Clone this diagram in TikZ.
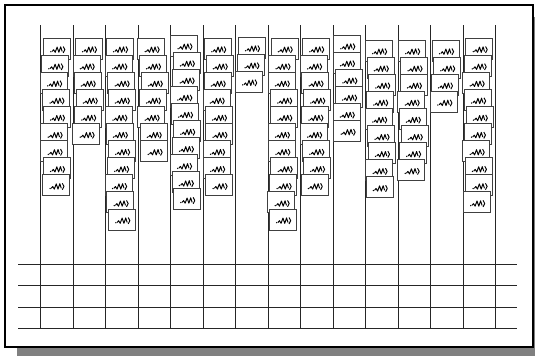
\documentclass[tikz,border=0pt]{standalone}
\usepackage{tikz}
\usetikzlibrary{calc}

\begin{document}
\begin{tikzpicture}[
    x=1pt, y=-1pt,
    rail/.style = {line width=1pt, black!85},
    cell/.style = {draw=black!75, fill=white, line width=1pt, inner sep=0pt,
                   minimum width=27pt, minimum height=21pt},
    wavy/.style = {line width=0.95pt, black, line join=round},
  ]

  % ---------- 参数：只改这里即可换图 ----------
  \def\xo{40.5}       % 第一根竖线的 x
  \def\gap{32.5}      % 竖线间距
  \def\pitch{17.1}    % 方块的竖向间距

  % ---------- 画布（带阴影的外框）----------
  \useasboundingbox (0,0) rectangle (535,356);
  \fill[black!50] (17,17) rectangle (535,356);
  \draw[fill=white, line width=1.2pt] (5,5) rectangle (533,347);

  % ---------- 竖线 ----------
  \foreach \kk in {0,...,14} {
    \pgfmathsetmacro{\xk}{\xo+\gap*\kk}
    \coordinate (t\kk) at (\xk,25);
    \coordinate (u\kk) at (\xk,328.5);
    \draw[rail] (t\kk) -- (u\kk);
  }

  % ---------- 横线 ----------
  \foreach \yy [count=\hh] in {264.5,285.5,307.5,328.5} {
    \coordinate (l\hh) at (18,\yy);
    \coordinate (r\hh) at (517,\yy);
    \draw[rail] (l\hh) -- (r\hh);
  }

  % ---------- 挂在竖线上的方块（个数/顶端）----------
  \foreach \nn/\ytop [count=\col from 0] in
      {9/38,6/38,11/38,7/38,10/35,9/38,3/37,11/38,9/38,6/35,9/40,8/40,4/40,10/38} {
    \foreach \row in {1,...,\nn} {
      \pgfmathsetmacro{\bx}{\xo+\gap*\col+15+1.6*sin(\row*97+\col*53)}
      \pgfmathsetmacro{\by}{\ytop+10.5+\pitch*(\row-1)}
      \node[cell] (b\col-\row) at (\bx,\by) {};
      % 方块里的小波形
      \begin{scope}[shift={(b\col-\row.center)}]
        \fill (-6.2,3.2) circle (0.75);
        \draw[wavy] (-5,3) -- (-3.5,1.2) -- (-1.9,3.8) -- (0,-1.4) -- (1.8,3.8)
              -- (3.6,-1.6) -- (5.1,3);
        \draw[wavy] (6.1,-2) .. controls (8.3,-0.7) and (8.3,3) .. (6.1,4.4);
      \end{scope}
    }
  }

\end{tikzpicture}
\end{document}
